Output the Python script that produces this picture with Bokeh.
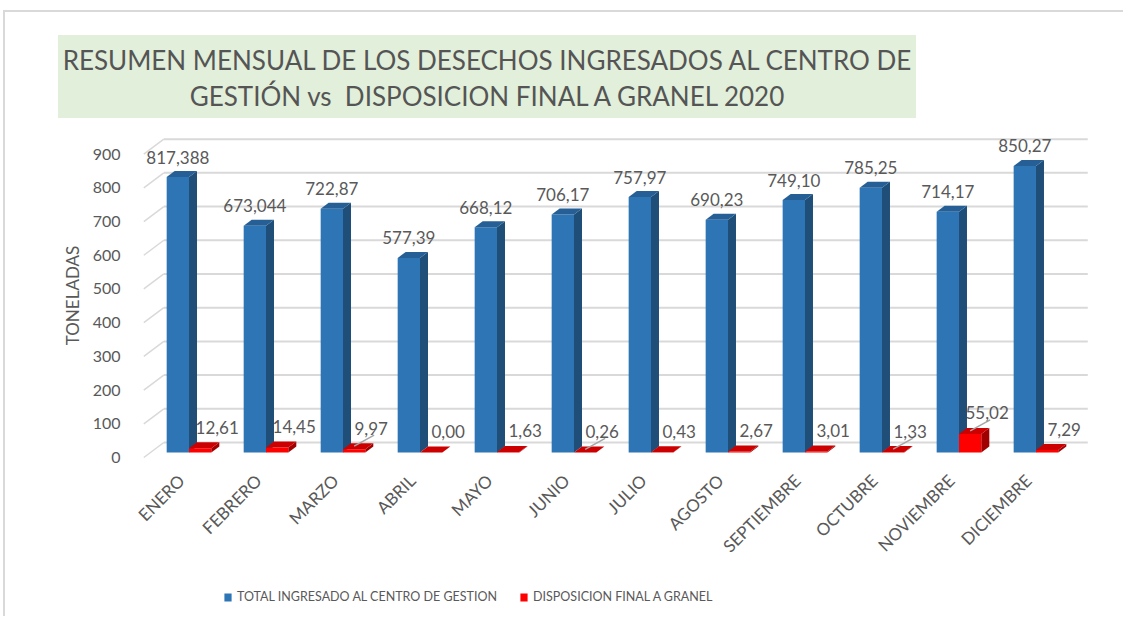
from bokeh.plotting import figure
from bokeh.layouts import column
from bokeh.models import (ColumnDataSource, LabelSet, Range1d, LinearAxis, Div,
                          FixedTicker, Legend, LegendItem)
from bokeh.core.properties import value
from bokeh.embed import file_html
from bokeh.resources import INLINE

# ---------------- data ----------------
months = ["ENERO", "FEBRERO", "MARZO", "ABRIL", "MAYO", "JUNIO", "JULIO",
          "AGOSTO", "SEPTIEMBRE", "OCTUBRE", "NOVIEMBRE", "DICIEMBRE"]
total = [817.388, 673.044, 722.87, 577.39, 668.12, 706.17, 757.97,
         690.23, 749.10, 785.25, 714.17, 850.27]
total_dec = [3, 3, 2, 2, 2, 2, 2, 2, 2, 2, 2, 2]
granel = [12.61, 14.45, 9.97, 0.00, 1.63, 0.26, 0.43, 2.67, 3.01, 1.33, 55.02, 7.29]
granel_dec = [2] * 12
leader_months = ["MARZO", "JUNIO", "OCTUBRE", "NOVIEMBRE"]
yticks = [0, 100, 200, 300, 400, 500, 600, 700, 800, 900]
series_names = ["TOTAL INGRESADO AL CENTRO DE GESTION", "DISPOSICION FINAL A GRANEL"]
title_lines = ["RESUMEN MENSUAL DE LOS DESECHOS INGRESADOS AL CENTRO DE",
               "GESTIÓN vs&nbsp; DISPOSICION FINAL A GRANEL 2020"]
y_title = "TONELADAS"

# ---------------- geometry / style ----------------
FONT = "Lato"
GRAY = "#595959"
OX, OY = 5, 12                      # inner origin of the bordered container
FRAME_W, FRAME_H = 950, 334
LEFT = 140 - OX
RIGHT = 33
XR = (-0.63, 11.708)
YR = (-29.7, 961.3)
PXX = FRAME_W / (XR[1] - XR[0])
PXY = FRAME_H / (YR[1] - YR[0])
BW = 0.29
BAR_DX, BAR_DY = 8 / PXX, 6 / PXY          # bar depth
FRONT_DX, FRONT_DY = -6.7 / PXX, -5 / PXY  # floor front relative to bar plane
BACK_DX, BACK_DY = 13.3 / PXX, 10 / PXY    # back wall relative to bar plane
LABEL_SHIFT = 0.1

# ---------------- title box ----------------
title = Div(text="<br>".join(title_lines), width=858, height=83,
            margin=(35 - OY, 0, 10, 58 - OX),
            styles={"background-color": "#E2EFDA", "color": "#555555",
                    "font-family": "Lato", "font-size": "26px", "line-height": "36px",
                    "text-align": "center", "box-sizing": "border-box",
                    "padding-top": "7px", "overflow": "hidden"})

# ---------------- main chart ----------------
p = figure(frame_width=FRAME_W, frame_height=FRAME_H, x_range=Range1d(*XR),
           y_range=Range1d(*YR), output_backend="svg", toolbar_location=None,
           min_border_left=LEFT, min_border_right=RIGHT,
           min_border_top=0, min_border_bottom=110, outline_line_color=None,
           background_fill_color="white", border_fill_color="white")
p.xgrid.visible = False
p.ygrid.visible = False
p.yaxis.visible = False

# front-plane axis for the tick labels
p.extra_y_ranges = {"front": Range1d(YR[0] - FRONT_DY, YR[1] - FRONT_DY)}
yax = LinearAxis(y_range_name="front", ticker=FixedTicker(ticks=yticks),
                 axis_line_color=None, major_tick_line_color=None,
                 minor_tick_line_color=None, major_label_standoff=14,
                 major_label_text_font=FONT, major_label_text_font_size="16px",
                 major_label_text_color=GRAY, axis_label=y_title,
                 axis_label_text_font=FONT, axis_label_text_font_size="17px",
                 axis_label_text_color=GRAY, axis_label_text_font_style="normal",
                 axis_label_standoff=7)
p.add_layout(yax, "left")

# x axis with month names
xpos = list(range(len(months)))
tick_pos = [x - LABEL_SHIFT for x in xpos]
p.xaxis.ticker = FixedTicker(ticks=tick_pos)
p.xaxis.major_label_overrides = {t: m for t, m in zip(tick_pos, months)}
p.xaxis.major_label_orientation = 0.785398
p.xaxis.axis_line_color = None
p.xaxis.major_tick_line_color = None
p.xaxis.minor_tick_line_color = None
p.xaxis.major_label_standoff = 9
p.xaxis.major_label_text_font = FONT
p.xaxis.major_label_text_font_size = "17px"
p.xaxis.major_label_text_color = GRAY

# back-wall gridlines and left floor diagonals
gy = [t + BACK_DY for t in yticks]
p.segment(x0=[-0.5 + BACK_DX] * len(yticks), y0=gy,
          x1=[11.5 + BACK_DX] * len(yticks), y1=gy, line_color="#d9d9d9", line_width=2)
p.segment(x0=[-0.5 + FRONT_DX] * len(yticks), y0=[t + FRONT_DY for t in yticks],
          x1=[-0.5 + BACK_DX] * len(yticks), y1=gy, line_color="#d9d9d9", line_width=1.5)


def bar3d(lefts, vals, front, side, top):
    rights = [l + BW for l in lefts]
    r_front = p.quad(left=lefts, right=rights, bottom=[0] * len(vals), top=vals,
                     fill_color=front, line_color=None)
    sx = [[r, r + BAR_DX, r + BAR_DX, r] for r in rights]
    sy = [[0, BAR_DY, v + BAR_DY, v] for v in vals]
    p.patches(xs=sx, ys=sy, fill_color=side, line_color=None)
    tx = [[l, l + BAR_DX, r + BAR_DX, r] for l, r in zip(lefts, rights)]
    ty = [[v, v + BAR_DY, v + BAR_DY, v] for v in vals]
    p.patches(xs=tx, ys=ty, fill_color=top, line_color=None)
    return r_front


BLUE = ("#2E75B6", "#1F4E79", "#255F95")
RED = ("#FF0000", "#A00000", "#CC0000")
blue_left = [x - BW for x in xpos]
red_left = [x for x in xpos]
bar3d(blue_left, total, *BLUE)
bar3d(red_left, granel, *RED)

# leader lines for some red labels
lx0 = [x + BW / 2 for x, m in zip(xpos, months) if m in leader_months]
ly0 = [g + 3 / PXY for g, m in zip(granel, months) if m in leader_months]
p.segment(x0=lx0, y0=ly0, x1=[x + 20 / PXX for x in lx0], y1=[y + 11 / PXY for y in ly0],
          line_color="#a6a6a6", line_width=1.5)

# data labels
def fmt(v, d):
    return f"{v:.{d}f}".replace(".", ",")

src_b = ColumnDataSource(dict(x=[l + BW / 2 for l in blue_left], y=total,
                              t=[fmt(v, d) for v, d in zip(total, total_dec)]))
src_r = ColumnDataSource(dict(x=[l + BW / 2 for l in red_left], y=granel,
                              t=[fmt(v, d) for v, d in zip(granel, granel_dec)]))
p.add_layout(LabelSet(x="x", y="y", text="t", source=src_b, y_offset=20,
                      text_align="center", text_baseline="middle",
                      text_font=value(FONT), text_font_size="17px", text_color=GRAY))
p.add_layout(LabelSet(x="x", y="y", text="t", source=src_r, x_offset=17, y_offset=21,
                      text_align="center", text_baseline="middle",
                      text_font=value(FONT), text_font_size="17px", text_color=GRAY))

# ---------------- legend strip ----------------
pl = figure(frame_width=FRAME_W, frame_height=44, x_range=Range1d(0, 1),
            y_range=Range1d(0, 1), output_backend="svg", toolbar_location=None,
            min_border_left=LEFT, min_border_right=RIGHT, min_border_top=0,
            min_border_bottom=0, outline_line_color=None)
pl.axis.visible = False
pl.grid.visible = False
# legend key proxies (kept outside the strip's visible range)
lb = pl.quad(left=[2], right=[3], bottom=[2], top=[3], fill_color=BLUE[0], line_color=None)
lr = pl.quad(left=[2], right=[3], bottom=[2], top=[3], fill_color=RED[0], line_color=None)
legend = Legend(items=[LegendItem(label=series_names[0], renderers=[lb]),
                       LegendItem(label=series_names[1], renderers=[lr])],
                orientation="horizontal", location=(223 - 140, 12), spacing=22,
                glyph_width=9, glyph_height=10, label_standoff=5, padding=0, margin=0,
                border_line_color=None, background_fill_alpha=0,
                label_text_font=FONT, label_text_font_size="12.5px",
                label_text_color=GRAY)
pl.add_layout(legend, "center")

layout = column(title, p, pl, spacing=0, margin=(10, 0, 0, 3),
                styles={"border-top": "2px solid #d9d9d9",
                        "border-left": "2px solid #d9d9d9"})
open("out.html", "w").write(file_html(layout, INLINE))
